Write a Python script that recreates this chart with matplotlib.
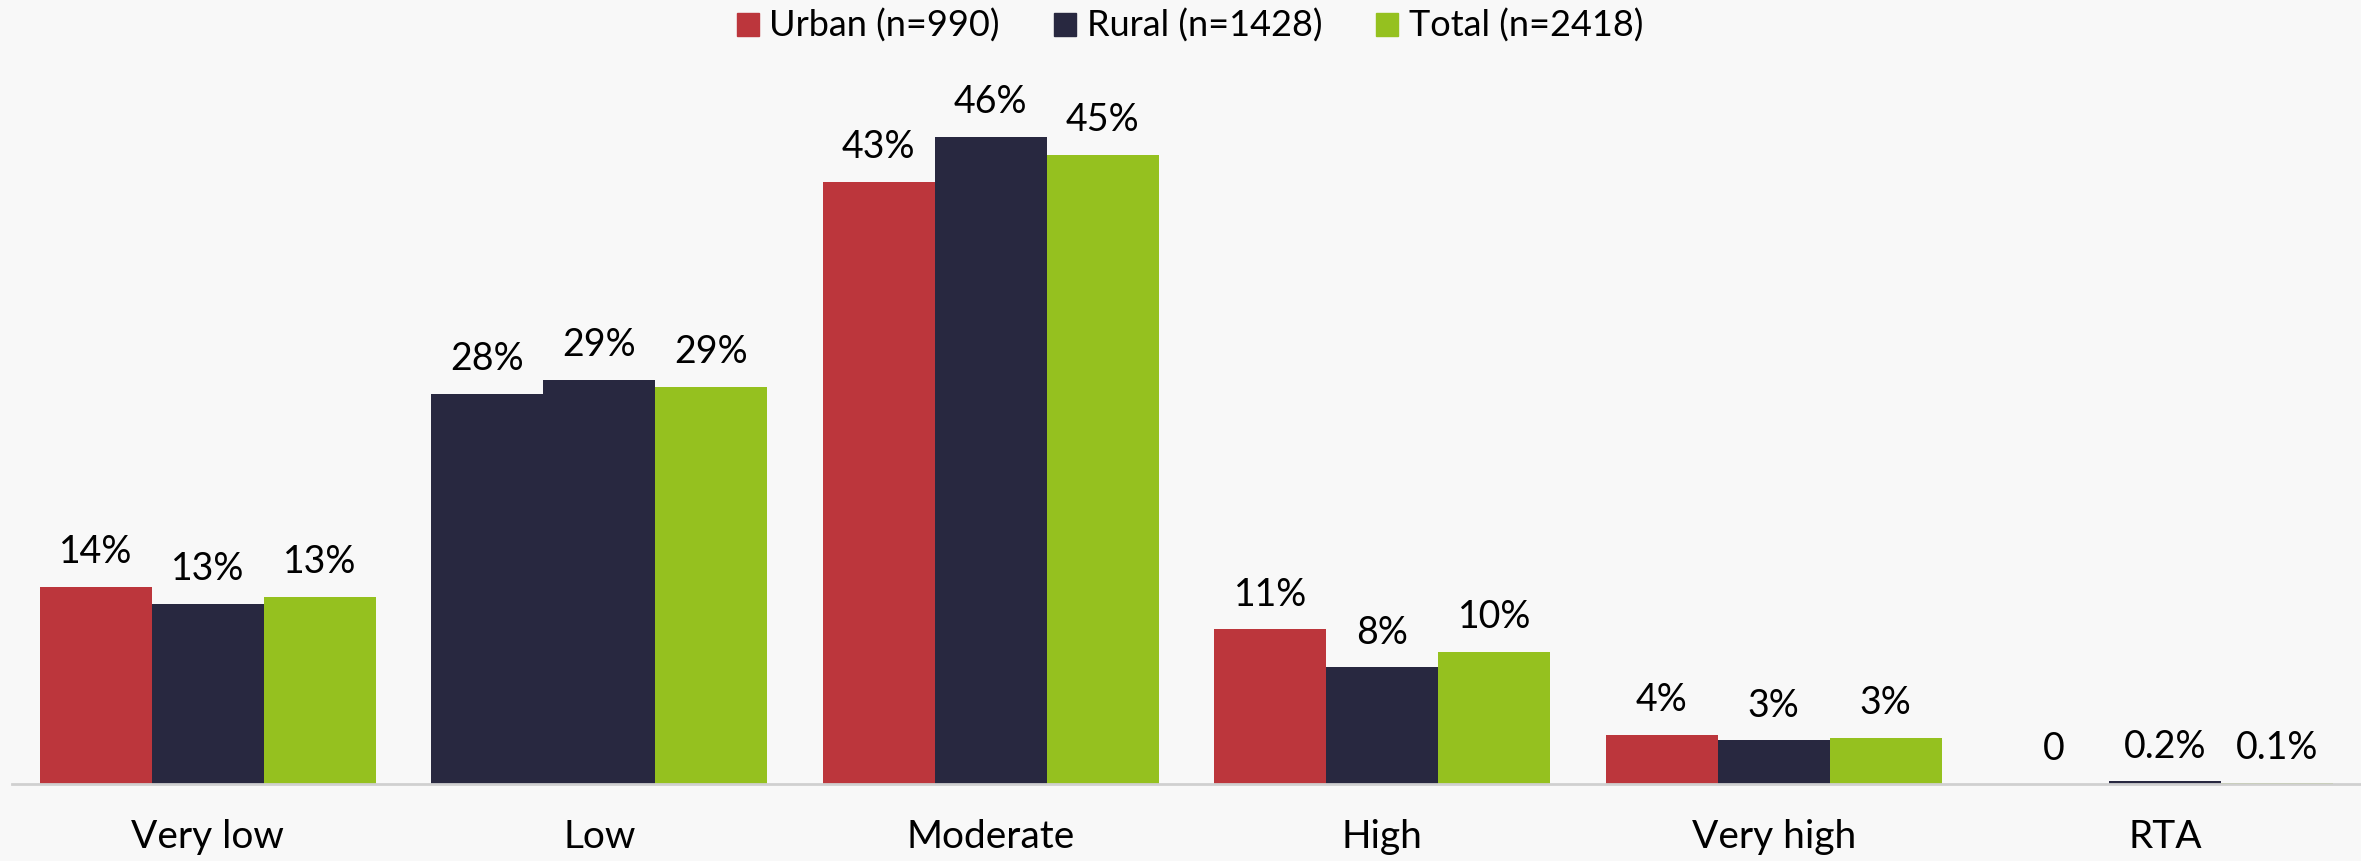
import numpy as np
import matplotlib
matplotlib.use("Agg")
from matplotlib import pyplot as plt

categories = ["Very low", "Low", "Moderate", "High", "Very high", "RTA"]
series = ["Urban (n=990)", "Rural (n=1428)", "Total (n=2418)"]
# bar heights (labels are the rounded figures)
urban = [14.0, 27.7, 42.8, 11.0, 3.5, 0]
rural = [12.8, 28.7, 46.0, 8.3, 3.1, 0.2]
total = [13.3, 28.2, 44.7, 9.4, 3.3, 0.1]
urban_labels = ["14%", "28%", "43%", "11%", "4%", "0"]
rural_labels = ["13%", "29%", "46%", "8%", "3%", "0.2%"]
total_labels = ["13%", "29%", "45%", "10%", "3%", "0.1%"]

colors = ["#bc363c", "#282840", "#95c11f"]
bg = "#f8f8f8"

plt.rcParams['font.family'] = ['Lato', 'DejaVu Sans']

fig = plt.figure(figsize=(23.61, 8.61), dpi=100, facecolor=bg)
ax = fig.add_axes([12 / 2361, 1 - 784 / 861, 1 - 12 / 2361, 784 / 861])
ax.set_facecolor(bg)

x = np.arange(len(categories))
w = 0.286
vals = [urban, rural, total]
labs = [urban_labels, rural_labels, total_labels]
for i in range(3):
    cols = [colors[i]] * len(categories)
    if i == 0:
        cols[1] = colors[1]  # Low / urban bar is drawn dark in the original
    bars = ax.bar(x + (i - 1) * w, vals[i], w, color=cols, label=series[i],
                  linewidth=0)
    for b, t in zip(bars, labs[i]):
        ax.annotate(t, (b.get_x() + b.get_width() / 2, b.get_height()),
                    xytext=(0, 12), textcoords="offset points",
                    ha="center", va="bottom", fontsize=27, color="black")

ax.set_xlim(-0.5, len(categories) - 0.5)
ax.set_ylim(0, 55.7)
ax.set_xticks(x)
ax.set_xticklabels(categories, fontsize=28)
ax.tick_params(axis="x", length=0, pad=25)
ax.set_yticks([])
for s in ["top", "right", "left"]:
    ax.spines[s].set_visible(False)
ax.spines["bottom"].set_color("#d0d0d0")
ax.spines["bottom"].set_linewidth(2)

handles = [plt.Rectangle((0, 0), 1, 1, color=c) for c in colors]
fig.legend(handles, series, loc="center", bbox_to_anchor=(1190 / 2361, 1 - 26 / 861),
           ncol=3, frameon=False, fontsize=26, handlelength=0.6, handleheight=0.6,
           handletextpad=0.3, columnspacing=1.5, borderaxespad=0, borderpad=0)

plt.savefig("out.png", dpi=100, facecolor=bg)
